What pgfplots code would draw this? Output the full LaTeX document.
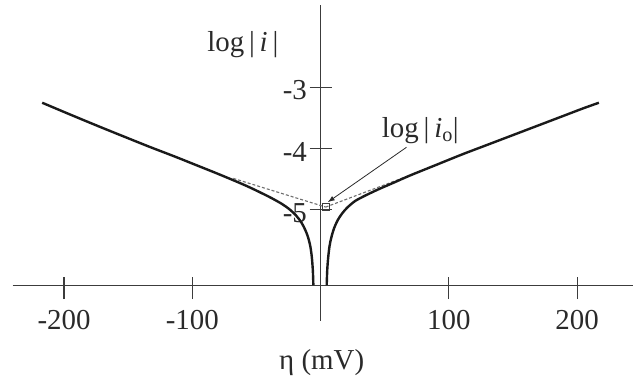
\documentclass[border=0pt]{standalone}
\usepackage{fontspec}
\setmainfont{Liberation Serif}
\usepackage{pgfplots}
\pgfplotsset{compat=1.18}
\usetikzlibrary{arrows.meta}

\definecolor{ink}{HTML}{1A1A1A}
\definecolor{axisgray}{HTML}{3C3C3C}
\definecolor{txt}{HTML}{2A2A2A}
\definecolor{tafel}{HTML}{6E6E6E}

% Current-overpotential curve, log|i| against eta (mV)
\pgfplotstableread{
eta   logi
-5.6  -6.24
-6.0  -6.00
-6.8  -5.78
-8.0  -5.60
-9.8  -5.45
-12   -5.33
-15   -5.21
-19   -5.10
-24   -5.00
-30   -4.91
-38   -4.815
-47   -4.72
-57   -4.62
-68   -4.52
-80   -4.415
-94   -4.297
-113  -4.137
-133  -3.975
-152  -3.815
-172  -3.645
-195  -3.445
-217  -3.25
}\cathodic

\pgfplotstableread{
eta   logi
4.8   -6.24
5.2   -6.00
5.9   -5.80
7.0   -5.60
8.5   -5.45
10.5  -5.31
13.5  -5.17
17    -5.06
21    -4.965
27    -4.86
35    -4.77
45    -4.67
57    -4.56
70    -4.44
90    -4.27
110   -4.10
130   -3.94
150   -3.78
170   -3.62
190   -3.46
205   -3.34
217   -3.25
}\anodic

\begin{document}
\begin{tikzpicture}
\begin{axis}[
  scale only axis,
  width=620.7bp, height=280bp,
  xmin=-240, xmax=244, ymin=-6.24, ymax=-1.65,
  clip=false,
  axis x line=bottom, axis y line=middle,
  axis line style={axisgray, line width=1.3bp, -},
  every inner y axis line/.append style={-},
  every outer x axis line/.append style={-},
  xtick={-200,-100,100,200},
  xticklabels={-200,-100,100,200},
  ytick={-5,-4,-3},
  yticklabels={-5,-4,-3},
  tick align=center,
  major tick length=22bp,
  tick style={axisgray, line width=1.1bp},
  xtick style={yshift=-3bp},
  font=\fontsize{29}{34}\selectfont,
  xticklabel style={anchor=base, inner sep=0pt, yshift=-33bp, text=txt},
  yticklabel style={anchor=base east, inner sep=0pt, xshift=-2.4bp, yshift=-12.5bp, text=txt},
]
  % y axis continues a little below the eta axis
  \draw[axisgray, line width=1.3bp] (axis cs:0,-6.24) -- (axis cs:0,-6.82);

  % Tafel extrapolations to log|i0|
  \addplot[tafel, line width=1.1bp, dash pattern=on 3bp off 2bp] coordinates {(-68,-4.49) (4,-4.96)};
  \addplot[tafel, line width=1.1bp, dash pattern=on 3bp off 2bp] coordinates {(4,-4.96) (72,-4.42)};
  \addplot[axisgray, only marks, mark=square, mark size=3.5bp, mark options={line width=0.9bp}] coordinates {(4.3,-4.95)};

  % Butler-Volmer branches
  \addplot[ink, line width=2.4bp, smooth, tension=0.5] table[x=eta, y=logi] {\cathodic};
  \addplot[ink, line width=2.4bp, smooth, tension=0.5] table[x=eta, y=logi] {\anodic};

  % annotation
  \draw[txt, line width=0.8bp, -{Latex[length=7bp, width=5bp]}] (axis cs:67,-3.98) -- (axis cs:5.6,-4.88);
  \node[anchor=base west, inner sep=0pt, text=txt] at (axis cs:47.7,-3.82) {log\,|\,\textit{i}\textsubscript{o}|};

  % axis titles
  \node[anchor=base, inner sep=0pt, text=txt] at (axis cs:-60.6,-2.41) {log\,|\,\textit{i}\,|};
  \node[anchor=base, inner sep=0pt, text=txt] at (axis cs:0.9,-7.616) {η (mV)};

  \coordinate (bbSW) at (axis cs:-249.9,-7.746);
  \coordinate (bbNE) at (axis cs:243.6,-1.566);
\end{axis}
\pgfresetboundingbox
\path (bbSW) rectangle (bbNE);
\end{tikzpicture}
\end{document}
